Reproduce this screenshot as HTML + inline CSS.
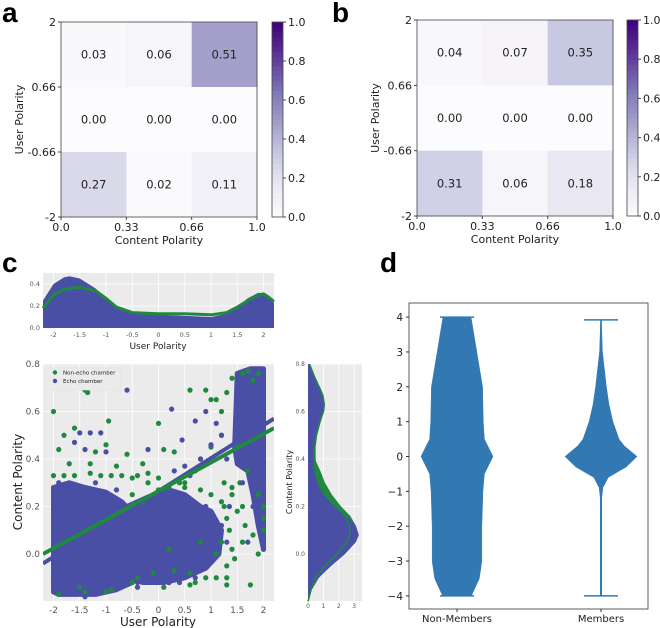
<!DOCTYPE html>
<html><head><meta charset="utf-8">
<style>
html,body{margin:0;padding:0;background:#fff;}
svg{display:block;font-family:"DejaVu Sans","Liberation Sans",sans-serif;}
.lbl{font-family:"Liberation Sans",sans-serif;font-weight:bold;font-size:28px;}
</style></head>
<body>
<svg id="fig" width="660" height="628" viewBox="0 0 660 628" xmlns="http://www.w3.org/2000/svg"></svg>
<script>
// ---- data ----
const heatA = [[0.03,0.06,0.51],[0.00,0.00,0.00],[0.27,0.02,0.11]];
const heatB = [[0.04,0.07,0.35],[0.00,0.00,0.00],[0.31,0.06,0.18]];
const heatXTicks = ["0.0","0.33","0.66","1.0"];
const heatYTicks = ["2","0.66","-0.66","-2"];
const cbarTicks = [0,0.2,0.4,0.6,0.8,1.0];

const kdeTopX = [-2.2,-2.0,-1.8,-1.7,-1.5,-1.2,-1.0,-0.8,-0.5,0,0.5,1.0,1.3,1.5,1.7,1.9,2.0,2.1,2.2];
const kdeTopBlue = [0.25,0.40,0.46,0.47,0.45,0.36,0.26,0.18,0.13,0.12,0.11,0.10,0.13,0.19,0.27,0.32,0.31,0.28,0.23];
const kdeTopGreen = [0.18,0.30,0.35,0.36,0.37,0.34,0.27,0.19,0.14,0.13,0.13,0.12,0.14,0.19,0.25,0.30,0.31,0.28,0.24];
const kdeRightY = [-0.2,-0.15,-0.1,-0.05,0.0,0.05,0.08,0.12,0.16,0.2,0.25,0.3,0.35,0.4,0.45,0.5,0.55,0.6,0.63,0.67,0.7,0.75,0.8];
const kdeRightBlue = [0.0,0.25,0.7,1.5,2.4,3.1,3.3,3.1,2.5,1.7,1.0,0.6,0.4,0.35,0.38,0.5,0.75,1.05,1.1,1.0,0.8,0.4,0.1];
const kdeRightGreen = [0.0,0.2,0.5,1.1,1.9,2.5,2.7,2.7,2.4,1.9,1.3,0.85,0.55,0.45,0.45,0.55,0.75,1.0,1.05,0.95,0.75,0.4,0.1];

const blobX = [[-2,-2,-1.7,-1.4,-1.0,-0.7,-0.4,-0.3,-0.5,-0.8,-1.2,-1.6,-1.9],[-0.6,-0.2,0.2,0.5,0.8,1.0,1.2,1.15,0.9,0.5,0.1,-0.3,-0.6],[1.45,1.5,1.75,2,2,1.9,1.8,1.7,1.5]];
const blobY = [[-0.16,0.28,0.3,0.28,0.26,0.22,0.15,0.0,-0.12,-0.15,-0.17,-0.17,-0.17],[0.2,0.24,0.27,0.25,0.2,0.18,0.1,0.0,-0.06,-0.1,-0.12,-0.12,-0.1],[0.45,0.76,0.78,0.78,0.02,0.12,0.25,0.35,0.38]];

const greenX = [-2,-1.9,-1.8,-1.6,-1.4,-1.35,-1.2,-1.0,-0.95,-0.6,-0.3,0,0.1,0.3,0.6,0.9,1.0,1.1,1.2,1.3,1.4,1.6,1.7,1.8,1.9,-2,-1.8,-1.6,-1.3,-1.1,-0.9,-0.7,-0.5,-0.4,-0.2,0,0.2,0.4,0.5,0.7,0.8,1.0,1.2,1.5,1.7,1.9,2,2,2,-1.7,-1.3,-0.8,-0.2,0.4,0.8,1.2,1.75,-1.5,-1.0,-0.5,0.2,0.7,1.3,1.6,1.9,-1.9,-1.4,-0.9,-0.6,0.1,0.6,1.1,1.4,1.8,1.25,1.3,1.35,1.2,1.1,1.3,1.4,1.5,1.45,1.3,0.9,0.6,0.3,-0.1,-0.4,0.0,0.5,1.0,1.25,1.4,1.55,1.6,1.65,-0.3,-0.5,0.2,0.8];
const greenY = [0.6,0.44,0.5,0.53,0.69,0.68,0.43,0.46,0.56,0.42,0.38,0.55,0.44,0.43,0.69,0.69,0.65,0.65,0.6,0.68,0.74,0.76,0.77,0.73,0.76,0.33,0.33,0.33,0.34,0.33,0.33,0.33,0.32,0.33,0.3,0.32,0.28,0.25,0.3,0.35,0.4,0.45,0.5,0.45,0.35,0.25,0.1,0.2,0.15,0.38,0.38,0.37,0.34,0.3,0.27,0.22,-0.13,-0.14,-0.16,-0.12,-0.12,-0.12,-0.13,0.05,0.0,-0.17,-0.16,-0.15,-0.12,-0.14,-0.13,-0.1,0.02,0.08,0.2,0.15,0.1,0.05,0.0,-0.05,0.25,0.18,-0.02,-0.1,-0.1,-0.08,-0.07,-0.08,-0.1,0.27,0.28,0.25,0.3,0.28,0.3,0.2,0.12,0.22,0.25,0.02,0.05];
const blueX = [-1.5,-1.3,-1.1,-0.6,-0.2,0.25,0.45,0.7,0.9,1.1,1.2,1.0,0.8,0.5,-1.6,-1.4,-1.0,0.3,0.6,1.3,1.9,2.0,1.6,-1.9,-1.6,-1.2,-0.8,0.0,0.4,0.9,1.5,-1.8,-1.4,-0.4,0.2,0.7,2.0,1.8,1.7,-2,-1.8,-1.6,-1.4,-1.2,-1.0,-0.8,-0.6,-0.4,-0.2,0.0,0.2,0.4,1.2,1.3,1.35];
const blueY = [0.51,0.51,0.51,0.69,0.44,0.61,0.48,0.56,0.6,0.55,0.5,0.46,0.4,0.37,0.47,0.44,0.43,0.35,0.33,0.4,0.45,0.02,0.3,0.3,0.28,0.3,0.27,0.25,0.25,0.2,0.5,-0.17,-0.18,-0.14,-0.12,-0.1,0.3,0.2,0.05,-0.12,-0.12,-0.12,-0.12,-0.12,-0.12,-0.12,-0.12,-0.12,-0.12,-0.12,-0.12,-0.12,0.12,0.05,0.2];
const regX = [-2.2,2.2];
const regGreen = [0.0,0.53];
const regBlue = [-0.04,0.57];

const violinY = [-4,-3.5,-3,-2,-1,-0.5,0,0.5,1,2,3,3.5,4];
const violinNon = [0.4,0.62,0.69,0.69,0.72,0.76,1.0,0.76,0.73,0.71,0.55,0.47,0.39];
const violinMemY = [-4,-1.2,-0.9,-0.6,-0.3,0,0.3,0.5,1,1.5,2,3,3.92];
const violinMem = [0.02,0.02,0.05,0.2,0.7,1.0,0.65,0.5,0.33,0.22,0.15,0.04,0.01];
const violinMemExt = [-4,3.92];
const violinNonExt = [-4,4];
const violinCats = ["Non-Members","Members"];

// ---- helpers ----
const NS="http://www.w3.org/2000/svg";
const svg=document.getElementById('fig');
function mk(tag,attrs,parent){const e=document.createElementNS(NS,tag);for(const k in attrs)e.setAttribute(k,attrs[k]);(parent||svg).appendChild(e);return e;}
function txt(x,y,s,size,anchor,parent,extra){const e=mk('text',Object.assign({x:x,y:y,'font-size':size,'text-anchor':anchor||'middle',fill:'#222'},extra||{}),parent);e.textContent=s;return e;}
const stops=[[0,[252,251,253]],[0.125,[239,237,245]],[0.25,[218,218,235]],[0.375,[188,189,220]],[0.5,[158,154,200]],[0.625,[128,125,186]],[0.75,[106,81,163]],[0.875,[84,39,143]],[1,[63,0,125]]];
function purple(v,lift){lift=lift||0;for(let i=1;i<stops.length;i++){if(v<=stops[i][0]){const a=stops[i-1],b=stops[i],t=(v-a[0])/(b[0]-a[0]);const c=a[1].map((x,j)=>Math.round((x+(b[1][j]-x)*t)*(1-lift)+255*lift));return `rgb(${c[0]},${c[1]},${c[2]})`;}}return 'rgb(63,0,125)';}

// ---- panel letters ----
[['a',2,22],['b',332,22],['c',2,272],['d',380,272]].forEach(p=>{const t=txt(p[1],p[2],p[0],28,'start');t.setAttribute('class','lbl');t.setAttribute('fill','#000');

});

// ---- heatmaps ----
function heatmap(data,x0,y0,w,h,cbx,name){
  const g=mk('g',{});
  
  
  const cw=w/3,ch=h/3;
  data.forEach((row,r)=>row.forEach((v,c)=>{
    const rc=mk('rect',{x:x0+c*cw,y:y0+r*ch,width:cw+0.5,height:ch+0.5,fill:purple(v,0.08)},g);
    
    
    txt(x0+c*cw+cw/2,y0+r*ch+ch/2+4,v.toFixed(2),11.5,'middle',g);
  }));
  mk('rect',{x:x0,y:y0,width:w,height:h,fill:'none',stroke:'#444','stroke-width':0.8},g);
  heatXTicks.forEach((t,i)=>{const x=x0+i*cw;mk('line',{x1:x,x2:x,y1:y0+h,y2:y0+h+3,stroke:'#444'},g);txt(x,y0+h+14,t,11,'middle',g);});
  heatYTicks.forEach((t,i)=>{const y=y0+i*ch;mk('line',{x1:x0-3,x2:x0,y1:y,y2:y,stroke:'#444'},g);txt(x0-5,y+4,t,11,'end',g);});
  txt(x0+w/2,y0+h+27,'Content Polarity',11,'middle',g);
  txt(0,0,'User Polarity',11,'middle',g,{transform:`translate(${x0-38},${y0+h/2}) rotate(-90)`});
  const n=40;
  for(let i=0;i<n;i++){mk('rect',{x:cbx,y:y0+h-(i+1)*h/n,width:11,height:h/n+0.6,fill:purple((i+0.5)/n)},g);}
  mk('rect',{x:cbx,y:y0,width:11,height:h,fill:'none',stroke:'#444','stroke-width':0.8},g);
  cbarTicks.forEach(t=>{const y=y0+h-t*h;mk('line',{x1:cbx+11,x2:cbx+14,y1:y,y2:y,stroke:'#444'},g);txt(cbx+16,y+4,t.toFixed(1),11,'start',g);});
}
heatmap(heatA,61,22,196,195,272,'heatmap-a');
heatmap(heatB,417,20,196,196,627,'heatmap-b');

// ---- panel c ----
const GREEN='#1f8a3f',BLUE='#4a4fa6';
const cx=v=>43+(v+2.2)/4.4*231;
(function(){
  const g=mk('g',{});
  
  
  const yt=v=>328-v/0.4*44;
  mk('rect',{x:43,y:273,width:231,height:55,fill:'#ebebeb'},g);
  [-2,-1.5,-1,-0.5,0,0.5,1,1.5,2].forEach(v=>{mk('line',{x1:cx(v),x2:cx(v),y1:273,y2:328,stroke:'#fff','stroke-width':0.8},g);txt(cx(v),337,String(v),6.5,'middle',g,{fill:'#555'});});
  [0,0.2,0.4].forEach(v=>{mk('line',{x1:43,x2:274,y1:yt(v),y2:yt(v),stroke:'#fff','stroke-width':0.8},g);txt(40,yt(v)+2,v.toFixed(1),6.5,'end',g,{fill:'#555'});});
  let d=`M${cx(kdeTopX[0])},328 `+kdeTopX.map((x,i)=>`L${cx(x)},${yt(kdeTopBlue[i])}`).join(' ')+` L${cx(kdeTopX[kdeTopX.length-1])},328Z`;
  const a=mk('path',{d:d,fill:BLUE},g);
  
  
  const l=mk('path',{d:'M'+kdeTopX.map((x,i)=>`${cx(x)},${yt(kdeTopGreen[i])}`).join(' L'),fill:'none',stroke:GREEN,'stroke-width':3},g);
  
  
  txt(158,349,'User Polarity',9,'middle',g);
})();
(function(){
  const g=mk('g',{});
  
  
  const cy=v=>554-v/0.8*190;
  mk('rect',{x:43,y:364,width:231,height:237,fill:'#ebebeb'},g);
  [-2,-1.5,-1,-0.5,0,0.5,1,1.5,2].forEach(v=>{mk('line',{x1:cx(v),x2:cx(v),y1:364,y2:601,stroke:'#fff','stroke-width':0.8},g);txt(cx(v),613,String(v),9,'middle',g,{fill:'#555'});});
  [0,0.2,0.4,0.6,0.8].forEach(v=>{mk('line',{x1:43,x2:274,y1:cy(v),y2:cy(v),stroke:'#fff','stroke-width':0.8},g);txt(40,cy(v)+3,v.toFixed(1),9,'end',g,{fill:'#555'});});
  const cp=mk('clipPath',{id:'scClip'},g);mk('rect',{x:43,y:364,width:231,height:237},cp);
  const cl=mk('g',{'clip-path':'url(#scClip)'},g);
  blobX.forEach((bx,k)=>{const p=mk('polygon',{points:bx.map((x,i)=>`${cx(x)},${cy(blobY[k][i])}`).join(' '),fill:BLUE,stroke:BLUE,'stroke-width':5,'stroke-linejoin':'round'},cl);
    
    });
  greenX.forEach((x,i)=>{const c=mk('circle',{cx:cx(x),cy:cy(greenY[i]),r:2.6,fill:GREEN},cl);
    
    });
  blueX.forEach((x,i)=>{const c=mk('circle',{cx:cx(x),cy:cy(blueY[i]),r:2.6,fill:BLUE},cl);
    
    });
  const rb=mk('line',{x1:cx(regX[0]),y1:cy(regBlue[0]),x2:cx(regX[1]),y2:cy(regBlue[1]),stroke:BLUE,'stroke-width':4},cl);
  
  
  const rg=mk('line',{x1:cx(regX[0]),y1:cy(regGreen[0]),x2:cx(regX[1]),y2:cy(regGreen[1]),stroke:GREEN,'stroke-width':4},cl);
  
  
  const lg=mk('g',{},g);
  
  
  mk('rect',{x:47,y:368,width:74,height:22,fill:'#ebebeb',stroke:'#ddd','stroke-width':0.5},lg);
  mk('circle',{cx:55,cy:372.5,r:2.2,fill:GREEN},lg);txt(63,374.5,'Non-echo chamber',5.5,'start',lg);
  mk('circle',{cx:55,cy:381,r:2.2,fill:BLUE},lg);txt(63,383,'Echo chamber',5.5,'start',lg);
  txt(158,626,'User Polarity',12,'middle',g);
  txt(0,0,'Content Polarity',12,'middle',g,{transform:'translate(22,482) rotate(-90)'});
})();
(function(){
  const g=mk('g',{});
  
  
  const rx=v=>308+v*15.4, cy=v=>554-v/0.8*190;
  mk('rect',{x:308,y:364,width:54,height:237,fill:'#ebebeb'},g);
  [0,1,2,3].forEach(v=>{mk('line',{x1:rx(v),x2:rx(v),y1:364,y2:601,stroke:'#fff','stroke-width':0.8},g);txt(rx(v),608,String(v),6,'middle',g,{fill:'#555'});});
  [0,0.2,0.4,0.6,0.8].forEach(v=>{mk('line',{x1:308,x2:362,y1:cy(v),y2:cy(v),stroke:'#fff','stroke-width':0.8},g);txt(305,cy(v)+2,v.toFixed(1),6,'end',g,{fill:'#555'});});
  const gf=mk('path',{d:`M308,${cy(kdeRightY[0])} `+kdeRightY.map((y,i)=>`L${rx(Math.max(kdeRightGreen[i],kdeRightBlue[i])+ (y>0.15&&y<0.4?0.25:0))},${cy(y)}`).join(' ')+` L308,${cy(kdeRightY[kdeRightY.length-1])}Z`,fill:GREEN},g);
  
  
  const bf=mk('path',{d:`M308,${cy(kdeRightY[0])} `+kdeRightY.map((y,i)=>`L${rx(kdeRightBlue[i])},${cy(y)}`).join(' ')+` L308,${cy(kdeRightY[kdeRightY.length-1])}Z`,fill:BLUE},g);
  
  
  const gl=mk('path',{d:'M'+kdeRightY.map((y,i)=>`${rx(kdeRightGreen[i])},${cy(y)}`).join(' L'),fill:'none',stroke:GREEN,'stroke-width':1.5},g);
  
  
  txt(0,0,'Content Polarity',8,'middle',g,{transform:'translate(292,482) rotate(-90)'});
})();

// ---- panel d violins ----
(function(){
  const g=mk('g',{});
  
  
  const vy=v=>456.5-v*34.85, HW=36, VC='#3279b4';
  mk('rect',{x:409,y:303,width:239,height:306,fill:'#fff',stroke:'#333','stroke-width':0.8},g);
  [-4,-3,-2,-1,0,1,2,3,4].forEach(v=>{mk('line',{x1:406,x2:409,y1:vy(v),y2:vy(v),stroke:'#333'},g);txt(403,vy(v)+4,v<0?'\u2212'+(-v):String(v),10.5,'end',g);});
  function violin(cxp,ys,ws,ext,name){
    const right=ys.map((y,i)=>`${cxp+ws[i]*HW},${vy(y)}`), left=ys.map((y,i)=>`${cxp-ws[i]*HW},${vy(y)}`).reverse();
    const p=mk('path',{d:'M'+right.join(' L')+' L'+left.join(' L')+'Z',fill:VC,stroke:VC,'stroke-width':0.5,'stroke-linejoin':'round'},g);
    
    
    mk('line',{x1:cxp,x2:cxp,y1:vy(ext[0]),y2:vy(ext[1]),stroke:VC,'stroke-width':1.5},g);
    ext.forEach(e=>mk('line',{x1:cxp-17,x2:cxp+17,y1:vy(e),y2:vy(e),stroke:VC,'stroke-width':1.5},g));
  }
  violin(457,violinY,violinNon,violinNonExt,'violin-non-members');
  violin(601,violinMemY,violinMem,violinMemExt,'violin-members');
  [457,601].forEach((x,i)=>{mk('line',{x1:x,x2:x,y1:609,y2:612,stroke:'#333'},g);txt(x,622,violinCats[i],10,'middle',g);});
})();
</script>
</body></html>
